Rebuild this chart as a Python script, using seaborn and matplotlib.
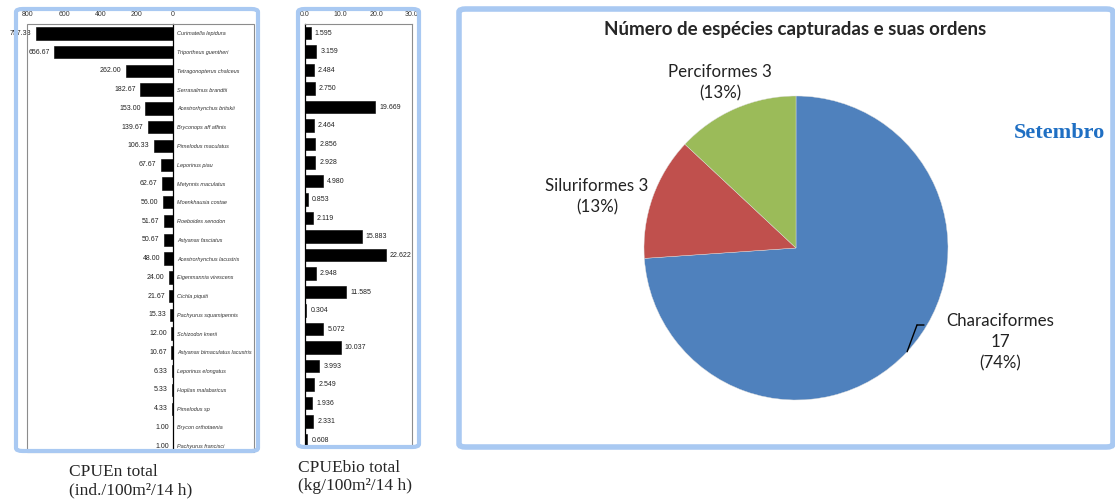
import numpy as np
import pandas as pd
import matplotlib
matplotlib.use("Agg")
import matplotlib.pyplot as plt
import seaborn as sns
from matplotlib.patches import FancyBboxPatch, Rectangle

# -----------------------------
# Data
# -----------------------------
species = [
    "Curimatella lepidura", "Triportheus guentheri", "Tetragonopterus chalceus",
    "Serrasalmus brandtii", "Acestrorhynchus britskii", "Bryconops aff affinis",
    "Pimelodus maculatus", "Leporinus piau", "Metynnis maculatus",
    "Moenkhausia costae", "Roeboides xenodon", "Astyanax fasciatus",
    "Acestrorhynchus lacustris", "Eigenmannia virescens", "Cichla piquiti",
    "Pachyurus squamipennis", "Schizodon knerii", "Astyanax bimaculatus lacustris",
    "Leporinus elongatus", "Hoplias malabaricus", "Pimelodus sp",
    "Brycon orthotaenia", "Pachyurus francisci",
]
cpue_n = [757.33, 656.67, 262.00, 182.67, 153.00, 139.67, 106.33, 67.67, 62.67,
          56.00, 51.67, 50.67, 48.00, 24.00, 21.67, 15.33, 12.00, 10.67, 6.33,
          5.33, 4.33, 1.00, 1.00]
cpue_bio = [1.595, 3.159, 2.484, 2.750, 19.669, 2.464, 2.856, 2.928, 4.980,
            0.853, 2.119, 15.883, 22.622, 2.948, 11.585, 0.304, 5.072, 10.037,
            3.993, 2.549, 1.936, 2.331, 0.608]
n_ticks = [800, 600, 400, 200, 0]
bio_ticks = [0, 10, 20, 30]

orders = ["Characiformes", "Siluriformes", "Perciformes"]
n_species = [17, 3, 3]
pie_colors = ["#4F81BD", "#C0504D", "#9BBB59"]

# -----------------------------
# Figure setup
# -----------------------------
sns.set_style("white")
plt.rcParams["font.family"] = ["Liberation Sans", "DejaVu Sans"]

W, H = 1115, 504
fig = plt.figure(figsize=(W / 100, H / 100), dpi=100)
fig.patch.set_facecolor("white")


def fx(px):
    return px / W


def fy(py):
    return 1 - py / H


def frame(x0, y0, x1, y1, lw=3.0):
    fig.add_artist(FancyBboxPatch((fx(x0), fy(y1)), fx(x1) - fx(x0), fy(y0) - fy(y1),
                                  boxstyle="round,pad=0,rounding_size=0.006",
                                  transform=fig.transFigure, fill=False,
                                  edgecolor="#A9C9F2", linewidth=lw, zorder=5))


def inner_box(x0, y0, x1, y1):
    fig.add_artist(Rectangle((fx(x0), fy(y1)), fx(x1) - fx(x0), fy(y0) - fy(y1),
                             transform=fig.transFigure, fill=False,
                             edgecolor="#8C8C8C", linewidth=0.8, zorder=4))


# -----------------------------
# Left panel: CPUEn
# -----------------------------
ax1 = fig.add_axes([fx(28), fy(450), fx(173) - fx(28), fy(24) - fy(450)])
df_n = pd.DataFrame({"species": species, "cpue": cpue_n})
sns.barplot(data=df_n, x="cpue", y="species", color="black", orient="h",
            width=0.66, ax=ax1, saturation=1, edgecolor="black", linewidth=0.4)
ax1.set_xlim(800, 0)
ax1.set_ylim(22.2, -0.5)
ax1.xaxis.tick_top()
ax1.set_xticks(n_ticks)
ax1.set_xticklabels([str(t) for t in n_ticks])
ax1.yaxis.tick_right()
ax1.set_yticks(range(len(species)))
ax1.set_yticklabels(species, fontsize=4, style="italic", color="#333333")
ax1.tick_params(axis="x", length=0, labelsize=5, pad=4, colors="#333333")
ax1.tick_params(axis="y", length=0, pad=3)
ax1.set_xlabel("")
ax1.set_ylabel("")
for s in ["left", "top", "bottom"]:
    ax1.spines[s].set_visible(False)
ax1.spines["right"].set_color("black")
ax1.spines["right"].set_linewidth(0.9)
ax1.bar_label(ax1.containers[0], fmt="%.2f", padding=3, fontsize=5, color="#222222")

inner_box(27, 24, 254, 452)
frame(16, 9, 258, 451)

fig.text(fx(69), fy(481), "CPUEn total\n(ind./100m\u00b2/14 h)", family="Liberation Serif",
         fontsize=12.5, ha="left", va="center", linespacing=1.2)

# -----------------------------
# Middle panel: CPUEbio
# -----------------------------
ax2 = fig.add_axes([fx(305), fy(445), fx(412) - fx(305), fy(23.75) - fy(445)])
df_b = pd.DataFrame({"species": species, "cpue": cpue_bio})
sns.barplot(data=df_b, x="cpue", y="species", color="black", orient="h",
            width=0.66, ax=ax2, saturation=1, edgecolor="black", linewidth=0.4)
ax2.set_xlim(0, 30)
ax2.set_ylim(22.27, -0.5)
ax2.xaxis.tick_top()
ax2.set_xticks(bio_ticks)
ax2.set_xticklabels([f"{t:.1f}" for t in bio_ticks])
ax2.set_yticks([])
ax2.tick_params(axis="x", length=0, labelsize=5, pad=4, colors="#333333")
ax2.set_xlabel("")
ax2.set_ylabel("")
for s in ["right", "top", "bottom"]:
    ax2.spines[s].set_color("#8C8C8C")
    ax2.spines[s].set_linewidth(0.8)
ax2.spines["bottom"].set_visible(False)
ax2.spines["left"].set_color("black")
ax2.spines["left"].set_linewidth(0.9)
ax2.bar_label(ax2.containers[0], fmt="%.3f", padding=3, fontsize=5, color="#222222")

frame(298, 9, 419, 447)

fig.text(fx(298), fy(477), "CPUEbio total\n(kg/100m\u00b2/14 h)", family="Liberation Serif",
         fontsize=12.5, ha="left", va="center", linespacing=1.2)

# -----------------------------
# Right panel: pie of orders
# -----------------------------
frame(459, 9, 1113, 447, lw=4)
cx, cy, r = 796, 248, 152
ax3 = fig.add_axes([fx(cx - r), fy(cy + r), fx(2 * r), (2 * r) / H])
wedges, _ = ax3.pie(n_species, colors=pie_colors, startangle=90, counterclock=False,
                    radius=1, wedgeprops=dict(linewidth=0.3, edgecolor="#dddddd"))
ax3.set_xlim(-1, 1)
ax3.set_ylim(-1, 1)
ax3.set_aspect("equal")
ax3.axis("off")

pie_font = ["Lato", "DejaVu Sans"]
fig.text(fx(795), fy(30), "Número de espécies capturadas e suas ordens", family=pie_font,
         fontsize=13.5, fontweight="bold", ha="center", va="center")
fig.text(fx(1059), fy(133), "Setembro", family="Liberation Serif", fontsize=16,
         fontweight="bold", color="#1F6FC3", ha="center", va="center")

total = sum(n_species)
pcts = [round(100 * v / total) for v in n_species]
label_pos = {"Perciformes": (720, 83), "Siluriformes": (597, 197), "Characiformes": (1000, 342)}
for name, v, p in zip(orders, n_species, pcts):
    if name == "Characiformes":
        txt = f"{name}\n{v}\n({p}%)"
    else:
        txt = f"{name} {v}\n({p}%)"
    lx, ly = label_pos[name]
    fig.text(fx(lx), fy(ly), txt, family=pie_font, fontsize=12.2, ha="center", va="center",
             linespacing=1.4, color="#222222")

# leader line for the big wedge
mid = np.deg2rad((wedges[0].theta1 + wedges[0].theta2) / 2)
ax3.annotate("", xy=(np.cos(mid), np.sin(mid)), xycoords="data",
             xytext=(917, H - 325), textcoords="figure pixels",
             arrowprops=dict(arrowstyle="-", color="black", lw=1, shrinkA=0, shrinkB=0))
ax3.annotate("", xy=(917, H - 325), xycoords="figure pixels",
             xytext=(924, H - 325), textcoords="figure pixels",
             arrowprops=dict(arrowstyle="-", color="black", lw=1, shrinkA=0, shrinkB=0))

fig.savefig("out.png", dpi=100)
